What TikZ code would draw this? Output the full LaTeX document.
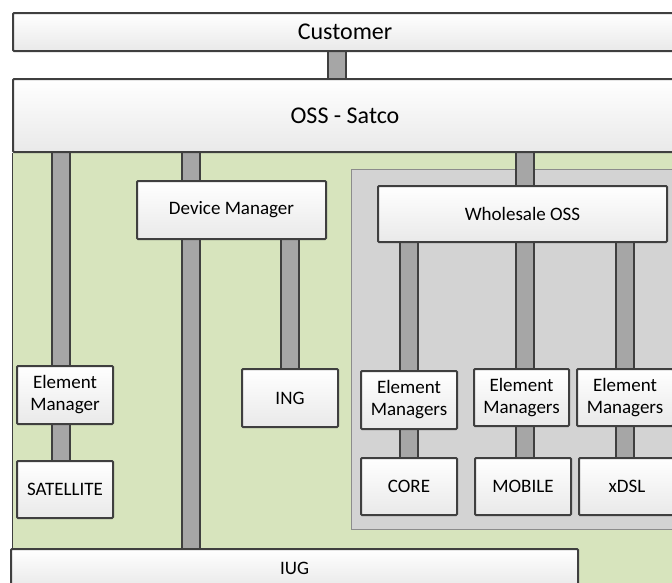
\documentclass[tikz,border=0pt]{standalone}
\usepackage{fontspec}
\setmainfont{Carlito}
\usetikzlibrary{calc}
\definecolor{edge}{HTML}{3F3F3F}
\definecolor{zonegreen}{HTML}{D7E4BD}
\definecolor{panelgray}{HTML}{D3D3D3}
\definecolor{paneledge}{HTML}{8C8C8C}
\definecolor{barfill}{HTML}{A6A6A6}
\definecolor{boxbottom}{HTML}{E9E9E9}
\pgfdeclarelayer{back}
\pgfdeclarelayer{mid}
\pgfsetlayers{back,mid,main}
\tikzset{
  box/.style={draw=edge, line width=2pt, rounded corners=1pt,
    top color=white, bottom color=boxbottom, inner sep=0pt,
    align=center, font=\fontsize{19}{22}\selectfont},
  bigbox/.style={box, font=\fontsize{24}{28}\selectfont},
  bar/.style={draw=edge, line width=1.6pt, double=barfill, double distance=16.8pt}
}
\begin{document}
\begin{tikzpicture}[x=1pt, y=-1pt]
\useasboundingbox (0,0) rectangle (672,582);
\clip (0,0) rectangle (672,582);

% layer nodes
\node[bigbox, minimum width=664pt, minimum height=38pt] (cust) at (345,32) {Customer};
\node[bigbox, minimum width=664pt, minimum height=73pt] (oss) at (345,115.5) {OSS - Satco};

\node[box, minimum width=189pt, minimum height=58pt] (dm) at (231.5,210) {Device Manager};
\node[box, minimum width=289pt, minimum height=56pt] (wos) at (522.5,214) {Wholesale OSS};

\node[box, minimum width=96pt, minimum height=58pt] (em0) at (65,395) {Element\\Manager};
\node[box, minimum width=96pt, minimum height=57pt] (sat) at (65,489.5) {SATELLITE};
\node[box, minimum width=96pt, minimum height=58pt] (ing) at (290,398) {ING};

\node[box, minimum width=96pt, minimum height=58pt] (em1) at (409,400) {Element\\Managers};
\node[box, minimum width=95pt, minimum height=57pt] (em2) at (521.5,397.5) {Element\\Managers};
\node[box, minimum width=96pt, minimum height=57pt] (em3) at (625,397.5) {Element\\Managers};

\node[box, minimum width=96pt, minimum height=57pt] (core) at (409,486.5) {CORE};
\node[box, minimum width=96pt, minimum height=57pt] (mobile) at (523,486.5) {MOBILE};
\node[box, minimum width=96pt, minimum height=57pt] (xdsl) at (627,486.5) {xDSL};

\node[box, minimum width=567pt, minimum height=38pt] (iug) at (294.5,568) {IUG};

% green access zone and grey wholesale panel
\begin{pgfonlayer}{back}
  \fill[zonegreen] (oss.south west) rectangle ($(oss.south east)+(40,460)$);
  \draw[edge, line width=0.8pt] (oss.south west) -- ++(0,460);
  \draw[paneledge, fill=panelgray, line width=1pt]
    ($(wos.north west)+(-26,-16)$) rectangle ($(wos.north east)+(60,344)$);
\end{pgfonlayer}

% link bars
\begin{pgfonlayer}{mid}
  \draw[bar] ($(cust.south)+(-8,0)$) -- ($(oss.north)+(-8,0)$);
  \draw[bar] ($(em0.north)+(-4,0)$) -- ($(em0.north|-oss.south)+(-4,0)$);
  \draw[bar] ($(dm.north)+(-40.5,0)$) -- ($(dm.north|-oss.south)+(-40.5,0)$);
  \draw[bar] ($(wos.north)+(2.5,0)$) -- ($(wos.north|-oss.south)+(2.5,0)$);
  \draw[bar] ($(dm.south)+(-40.5,0)$) -- ($(dm.south|-iug.north)+(-40.5,0)$);
  \draw[bar] (ing.north) -- (ing.north|-dm.south);
  \draw[bar] ($(em0.south)+(-4,0)$) -- ($(sat.north)+(-4,0)$);
  \draw[bar] (em1.north) -- (em1.north|-wos.south);
  \draw[bar] ($(em2.north)+(3.5,0)$) -- ($(em2.north|-wos.south)+(3.5,0)$);
  \draw[bar] (em3.north) -- (em3.north|-wos.south);
  \draw[bar] (em1.south) -- (core.north);
  \draw[bar] ($(em2.south)+(3.5,0)$) -- ($(em2.south|-mobile.north)+(3.5,0)$);
  \draw[bar] (em3.south) -- (em3.south|-xdsl.north);
\end{pgfonlayer}
\end{tikzpicture}
\end{document}
